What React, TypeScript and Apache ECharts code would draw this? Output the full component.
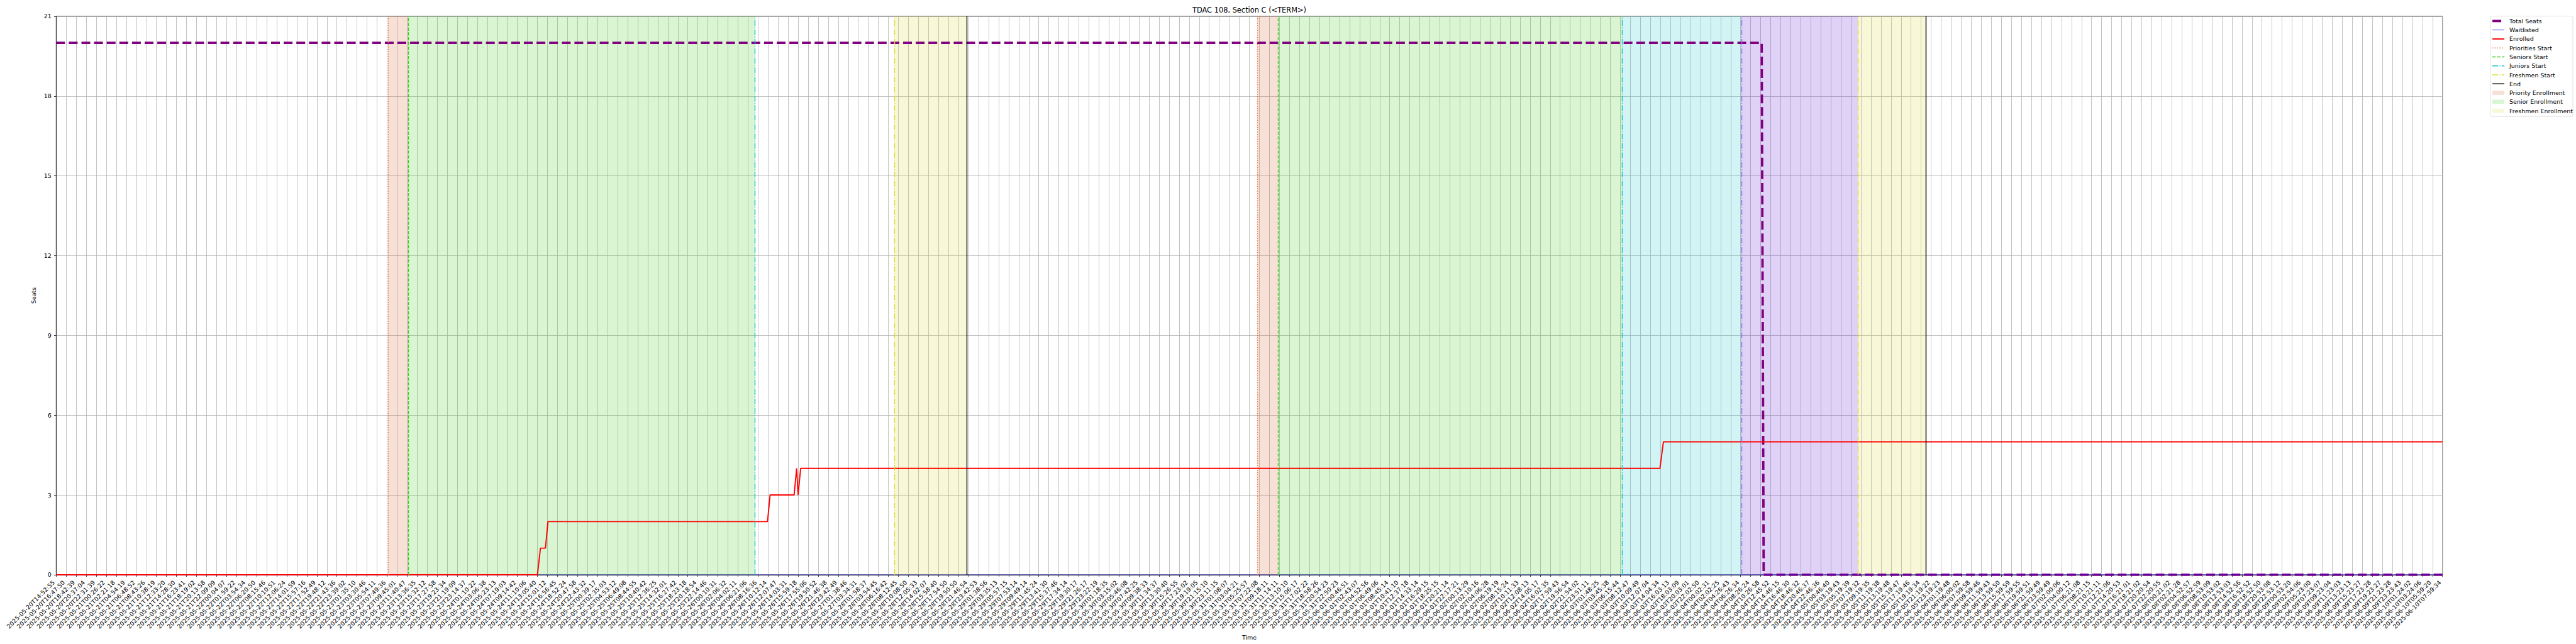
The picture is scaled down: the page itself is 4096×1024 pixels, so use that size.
import React, { useEffect, useRef } from 'react';
import * as echarts from 'echarts';

const FONT = '"DejaVu Sans", "Liberation Sans", sans-serif';

const titleText = 'TDAC 108, Section C (<TERM>)';
const xName = 'Time';
const yName = 'Seats';

const tickLabels: string[] = [
  '2025-05-20T14:52:55', '2025-05-20T16:47:50', '2025-05-20T18:42:39', '2025-05-20T20:37:04', '2025-05-20T22:31:39',
  '2025-05-21T00:26:22', '2025-05-21T02:21:18', '2025-05-21T04:54:19', '2025-05-21T06:48:52', '2025-05-21T08:43:26', '2025-05-21T10:38:19',
  '2025-05-21T12:33:20', '2025-05-21T14:28:30', '2025-05-21T16:23:41', '2025-05-21T18:19:02', '2025-05-21T20:13:58', '2025-05-21T22:09:09',
  '2025-05-22T00:04:07', '2025-05-22T01:59:22', '2025-05-22T03:54:34', '2025-05-22T06:20:50', '2025-05-22T08:15:46', '2025-05-22T10:10:51',
  '2025-05-22T12:06:24', '2025-05-22T14:01:59', '2025-05-22T15:57:16', '2025-05-22T17:52:49', '2025-05-22T19:48:12', '2025-05-22T21:43:36', '2025-05-22T23:39:02',
  '2025-05-23T01:35:10', '2025-05-23T03:30:46', '2025-05-23T05:54:11', '2025-05-23T07:49:36', '2025-05-23T09:45:01', '2025-05-23T11:40:47',
  '2025-05-23T13:36:35', '2025-05-23T15:32:12', '2025-05-23T17:27:58', '2025-05-23T19:23:34', '2025-05-23T21:19:09', '2025-05-23T23:14:37',
  '2025-05-24T01:10:22', '2025-05-24T03:06:38', '2025-05-24T05:23:13', '2025-05-24T07:19:03', '2025-05-24T09:14:42', '2025-05-24T11:10:06',
  '2025-05-24T13:05:40', '2025-05-24T15:01:12', '2025-05-24T16:56:45', '2025-05-24T18:52:24', '2025-05-24T20:47:58', '2025-05-24T22:43:32',
  '2025-05-25T00:39:17', '2025-05-25T02:35:03', '2025-05-25T04:53:12', '2025-05-25T06:49:08', '2025-05-25T08:44:55', '2025-05-25T10:40:42',
  '2025-05-25T12:36:25', '2025-05-25T14:32:01', '2025-05-25T16:27:42', '2025-05-25T18:23:18', '2025-05-25T20:18:54', '2025-05-25T22:14:46',
  '2025-05-26T00:10:31', '2025-05-26T02:06:32', '2025-05-26T04:02:11', '2025-05-26T06:21:06', '2025-05-26T08:16:36', '2025-05-26T10:12:14',
  '2025-05-26T12:07:47', '2025-05-26T14:03:31', '2025-05-26T15:59:18', '2025-05-26T17:55:06', '2025-05-26T19:50:52', '2025-05-26T21:46:38', '2025-05-26T23:42:49',
  '2025-05-27T01:38:46', '2025-05-27T03:34:31',
  '2025-05-28T01:58:37', '2025-05-28T03:54:45', '2025-05-28T06:16:42', '2025-05-28T08:12:45', '2025-05-28T10:08:50', '2025-05-28T12:05:33',
  '2025-05-28T14:02:07', '2025-05-28T15:58:40', '2025-05-28T17:54:50', '2025-05-28T19:50:50', '2025-05-28T21:46:54', '2025-05-28T23:42:53',
  '2025-05-29T01:38:56', '2025-05-29T03:35:13', '2025-05-29T05:57:15', '2025-05-29T07:53:14', '2025-05-29T09:49:14', '2025-05-29T11:45:24',
  '2025-05-29T13:41:30', '2025-05-29T15:37:46', '2025-05-29T17:34:14', '2025-05-29T19:30:17', '2025-05-29T21:26:17', '2025-05-29T23:22:19',
  '2025-05-30T01:18:35', '2025-05-30T03:15:02', '2025-05-30T05:46:08', '2025-05-30T07:42:25', '2025-05-30T09:38:33', '2025-05-30T11:34:37',
  '2025-05-30T13:30:40', '2025-05-30T15:26:55', '2025-05-30T17:23:02', '2025-05-30T19:19:05', '2025-05-30T21:15:10', '2025-05-30T23:11:15',
  '2025-05-31T01:08:07', '2025-05-31T03:04:21', '2025-05-31T05:25:57', '2025-05-31T07:22:08', '2025-05-31T09:18:11', '2025-05-31T11:14:11',
  '2025-05-31T13:10:10', '2025-05-31T15:06:17', '2025-05-31T17:02:22', '2025-05-31T18:58:26', '2025-05-31T20:54:23', '2025-05-31T22:50:23',
  '2025-06-01T00:46:51', '2025-06-01T02:43:07', '2025-06-01T04:52:56', '2025-06-01T06:49:06', '2025-06-01T08:45:14', '2025-06-01T10:41:10',
  '2025-06-01T12:37:18', '2025-06-01T14:33:14', '2025-06-01T16:29:15', '2025-06-01T18:25:15', '2025-06-01T20:21:14', '2025-06-01T22:17:21',
  '2025-06-02T00:13:29', '2025-06-02T02:10:16', '2025-06-02T04:06:28', '2025-06-02T06:19:19', '2025-06-02T08:15:24', '2025-06-02T10:11:33',
  '2025-06-02T12:08:13', '2025-06-02T14:05:17', '2025-06-02T16:02:35', '2025-06-02T17:59:43', '2025-06-02T19:56:54', '2025-06-02T21:54:02', '2025-06-02T23:51:11',
  '2025-06-03T01:48:25', '2025-06-03T03:45:38', '2025-06-03T06:15:44', '2025-06-03T08:12:47', '2025-06-03T10:09:49', '2025-06-03T12:07:04',
  '2025-06-03T14:04:34', '2025-06-03T16:03:13', '2025-06-03T18:03:09', '2025-06-03T20:03:01', '2025-06-03T22:02:50',
  '2025-06-04T00:02:31', '2025-06-04T02:02:25', '2025-06-04T04:26:43', '2025-06-04T06:26:34', '2025-06-04T08:26:24', '2025-06-04T10:26:58',
  '2025-06-04T12:45:52', '2025-06-04T14:46:15', '2025-06-04T16:46:30', '2025-06-04T18:46:32', '2025-06-04T20:46:37', '2025-06-04T22:46:36',
  '2025-06-05T00:46:40', '2025-06-05T03:19:43', '2025-06-05T05:19:39', '2025-06-05T07:19:32', '2025-06-05T09:19:35', '2025-06-05T11:19:38',
  '2025-06-05T13:19:48', '2025-06-05T15:19:47', '2025-06-05T17:19:46', '2025-06-05T19:19:34', '2025-06-05T21:19:22', '2025-06-05T23:19:23',
  '2025-06-06T01:19:48', '2025-06-06T06:00:02', '2025-06-06T07:59:58', '2025-06-06T09:59:46', '2025-06-06T11:59:43', '2025-06-06T13:59:50',
  '2025-06-06T15:59:59', '2025-06-06T17:59:55', '2025-06-06T19:59:51', '2025-06-06T21:59:49', '2025-06-06T23:59:49',
  '2025-06-07T02:00:06', '2025-06-07T04:00:12', '2025-06-07T06:21:08', '2025-06-07T08:21:15', '2025-06-07T10:21:11', '2025-06-07T12:21:06',
  '2025-06-07T14:20:53', '2025-06-07T16:21:01', '2025-06-07T18:21:02', '2025-06-07T20:20:54', '2025-06-07T22:20:55',
  '2025-06-08T00:21:02', '2025-06-08T02:21:28', '2025-06-08T04:52:57', '2025-06-08T06:52:59', '2025-06-08T08:53:09', '2025-06-08T10:53:02',
  '2025-06-08T12:53:03', '2025-06-08T14:52:56', '2025-06-08T16:52:52', '2025-06-08T18:52:50', '2025-06-08T20:53:08', '2025-06-08T22:53:12',
  '2025-06-09T00:53:20', '2025-06-09T02:54:06', '2025-06-09T05:23:00', '2025-06-09T07:23:07', '2025-06-09T09:23:04', '2025-06-09T11:23:03',
  '2025-06-09T13:23:13', '2025-06-09T15:23:27', '2025-06-09T17:23:28', '2025-06-09T19:23:27', '2025-06-09T21:23:28', '2025-06-09T23:23:43',
  '2025-06-10T01:24:02', '2025-06-10T03:24:06', '2025-06-10T05:59:20', '2025-06-10T07:59:34',
];

// Series values: [tick index position, seats]
const totalSeats: [number, number][] = [[0, 20], [170.1, 20], [170.3, 0], [238, 0]];
const waitlisted: [number, number][] = [[0, 0], [238, 0]];
const enrolled: [number, number][] = [
  [0, 0], [48.0, 0], [48.3, 1], [48.8, 1], [49.05, 2], [70.95, 2], [71.2, 3], [73.6, 3],
  [73.85, 4], [74.0, 3], [74.25, 4], [159.95, 4], [160.3, 5], [238, 5],
];

// Phase markers (tick index positions)
const priorityStarts = [33.1, 119.8];
const seniorStarts = [35.1, 121.9];
const juniorStarts = [69.7, 156.2];
const sophomoreStarts = [168.1];
const freshmenStarts = [83.6, 179.7];
const endMarks = [90.8, 186.5];

const priorityBands: [number, number][] = [[33.1, 35.1], [119.8, 121.9]];
const seniorBands: [number, number][] = [[35.1, 69.7], [121.9, 156.2]];
const juniorBands: [number, number][] = [[156.2, 168.1]];
const sophomoreBands: [number, number][] = [[168.1, 179.7]];
const freshmenBands: [number, number][] = [[83.6, 90.8], [179.7, 186.5]];

const yMin = 0;
const yMax = 21;
const yStep = 3;

// Styles
const C = {
  seats: '#800080',
  wait: '#0000ff',
  enr: '#ff0000',
  pri: '#f0703a',
  sen: '#3ccc1e',
  jun: '#17c3d0',
  soph: '#9060e0',
  fresh: '#dcdc3c',
  end: '#000000',
  priFill: 'rgba(215,100,45,0.2)',
  senFill: 'rgba(65,205,30,0.2)',
  junFill: 'rgba(30,200,200,0.2)',
  sophFill: 'rgba(100,30,210,0.2)',
  freshFill: 'rgba(220,220,60,0.2)',
};
const MW = 1.42;
const DOT = [1.42, 2.34];
const DASH = [5.25, 2.27];
const DASHDOT = [9.09, 2.27, 1.42, 2.27];
const SEATS_DASH = [14, 6.1];

const GL = 89.3;
const GR = 3883.7;
const GT = 25.9;
const GB = 913.9;

const legendItems = [
  { name: 'Total Seats', kind: 'line', color: C.seats, width: 3.8, dash: SEATS_DASH },
  { name: 'Waitlisted', kind: 'line', color: C.wait, width: 0.95, dash: null, opacity: 0.75 },
  { name: 'Enrolled', kind: 'line', color: C.enr, width: 1.9, dash: null },
  { name: 'Priorities Start', kind: 'line', color: C.pri, width: MW, dash: DOT },
  { name: 'Seniors Start', kind: 'line', color: C.sen, width: MW, dash: DASH },
  { name: 'Juniors Start', kind: 'line', color: C.jun, width: MW, dash: DASHDOT },
  { name: 'Freshmen Start', kind: 'line', color: C.fresh, width: MW, dash: DASHDOT },
  { name: 'End', kind: 'line', color: C.end, width: MW, dash: null },
  { name: 'Priority Enrollment', kind: 'rect', color: C.priFill },
  { name: 'Senior Enrollment', kind: 'rect', color: C.senFill },
  { name: 'Freshmen Enrollment', kind: 'rect', color: C.freshFill },
];

function buildLegend() {
  const boxX = 3960;
  const boxY = 25.7;
  const boxW = 131;
  const boxH = 159.6;
  const y0 = 33.4;
  const dy = 14.27;
  const hx1 = 3963.1;
  const hx2 = 3982.1;
  const tx = 3990;
  const children: any[] = [
    {
      type: 'rect',
      shape: { x: boxX, y: boxY, width: boxW, height: boxH, r: 2.7 },
      style: { fill: '#ffffff', stroke: '#d6d6d6', lineWidth: 0.7 },
    },
  ];
  legendItems.forEach((it: any, i) => {
    const y = y0 + i * dy;
    if (it.kind === 'line') {
      children.push({
        type: 'line',
        shape: { x1: hx1, y1: y, x2: hx2, y2: y },
        style: { stroke: it.color, lineWidth: it.width, lineDash: it.dash || undefined, opacity: it.opacity ?? 1 },
      });
    } else {
      children.push({
        type: 'rect',
        shape: { x: hx1, y: y - 3.3, width: hx2 - hx1, height: 6.6 },
        style: { fill: it.color },
      });
    }
    children.push({
      type: 'text',
      style: { text: it.name, x: tx, y, fill: '#000', fontSize: 9.5, fontFamily: FONT, verticalAlign: 'middle', align: 'left' },
    });
  });
  return { type: 'group', silent: true, children };
}

function bandsToMarkArea(bands: [number, number][], color: string) {
  return bands.map(([a, b]) => [{ xAxis: a, itemStyle: { color } }, { xAxis: b }]);
}

function marks(vals: number[], color: string, type: any) {
  return vals.map((v) => ({ xAxis: v, lineStyle: { color, width: MW, type, opacity: 1 } }));
}

export default function App() {
  const ref = useRef<HTMLDivElement>(null);
  useEffect(() => {
    if (!ref.current) return;
    const chart = echarts.init(ref.current, undefined, { renderer: 'svg', width: 4096, height: 1024 });
    const axisText = { fontSize: 9.5, fontFamily: FONT, color: '#000' };
    const option: any = {
      animation: false,
      backgroundColor: '#ffffff',
      grid: {
        left: GL,
        right: 4096 - GR,
        top: GT,
        bottom: 1024 - GB,
        containLabel: false,
        outerBoundsMode: 'none',
        show: true,
        borderColor: '#000',
        borderWidth: 0.76,
        backgroundColor: 'transparent',
      },
      xAxis: {
        type: 'value',
        min: 0,
        max: tickLabels.length - 1,
        interval: 1,
        name: xName,
        nameLocation: 'middle',
        nameGap: 86,
        nameTextStyle: axisText,
        axisLine: { show: true, onZero: false, lineStyle: { color: '#000', width: 0.76 } },
        axisTick: { show: true, length: 3.3, lineStyle: { color: '#000', width: 0.76 } },
        axisLabel: {
          show: true,
          rotate: 45,
          margin: 6.7,
          padding: [0, 5.5, 0, 0],
          showMinLabel: true,
          showMaxLabel: true,
          hideOverlap: false,
          ...axisText,
          formatter: (v: number) => tickLabels[Math.round(v)] ?? '',
        },
        splitLine: { show: true, lineStyle: { color: '#b0b0b0', width: 0.76 } },
      },
      yAxis: {
        type: 'value',
        min: yMin,
        max: yMax,
        interval: yStep,
        name: yName,
        nameLocation: 'middle',
        nameGap: 22.5,
        nameTextStyle: axisText,
        axisLine: { show: true, lineStyle: { color: '#000', width: 0.76 } },
        axisTick: { show: true, length: 3.3, lineStyle: { color: '#000', width: 0.76 } },
        axisLabel: { margin: 7.5, ...axisText },
        splitLine: { show: true, lineStyle: { color: '#b0b0b0', width: 0.76 } },
      },
      graphic: [
        {
          type: 'text',
          silent: true,
          style: {
            text: titleText,
            x: (GL + GR) / 2,
            y: 16.2,
            fill: '#000',
            fontSize: 11.4,
            fontFamily: FONT,
            align: 'center',
            verticalAlign: 'middle',
          },
        },
        buildLegend(),
      ],
      series: [
        {
          name: 'bands',
          type: 'line',
          data: [[0, null]],
          symbol: 'none',
          silent: true,
          lineStyle: { opacity: 0 },
          z: 1,
          markArea: {
            silent: true,
            data: [
              ...bandsToMarkArea(priorityBands, C.priFill),
              ...bandsToMarkArea(seniorBands, C.senFill),
              ...bandsToMarkArea(juniorBands, C.junFill),
              ...bandsToMarkArea(sophomoreBands, C.sophFill),
              ...bandsToMarkArea(freshmenBands, C.freshFill),
            ],
          },
        },
        {
          name: 'Total Seats',
          type: 'line',
          data: totalSeats,
          symbol: 'none',
          silent: true,
          clip: false,
          z: 3,
          lineStyle: { color: C.seats, width: 3.8, type: SEATS_DASH },
        },
        {
          name: 'Waitlisted',
          type: 'line',
          data: waitlisted,
          symbol: 'none',
          silent: true,
          clip: false,
          z: 3,
          lineStyle: { color: C.wait, width: 0.95, opacity: 0.45 },
        },
        {
          name: 'Enrolled',
          type: 'line',
          data: enrolled,
          symbol: 'none',
          silent: true,
          clip: false,
          z: 3,
          lineStyle: { color: C.enr, width: 1.9 },
        },
        {
          name: 'markers',
          type: 'line',
          data: [[0, null]],
          symbol: 'none',
          silent: true,
          lineStyle: { opacity: 0 },
          z: 4,
          markLine: {
            silent: true,
            symbol: ['none', 'none'],
            label: { show: false },
            emphasis: { disabled: true },
            data: [
              ...marks(priorityStarts, C.pri, DOT),
              ...marks(seniorStarts, C.sen, DASH),
              ...marks(juniorStarts, C.jun, DASHDOT),
              ...marks(sophomoreStarts, C.soph, DASHDOT),
              ...marks(freshmenStarts, C.fresh, DASHDOT),
              ...marks(endMarks, C.end, 'solid'),
            ],
          },
        },
      ],
    };
    chart.setOption(option);
    return () => chart.dispose();
  }, []);
  return (
    <div
      ref={ref}
      style={{ position: 'fixed', left: 0, top: 0, width: 4096, height: 1024, background: '#ffffff' }}
    />
  );
}
